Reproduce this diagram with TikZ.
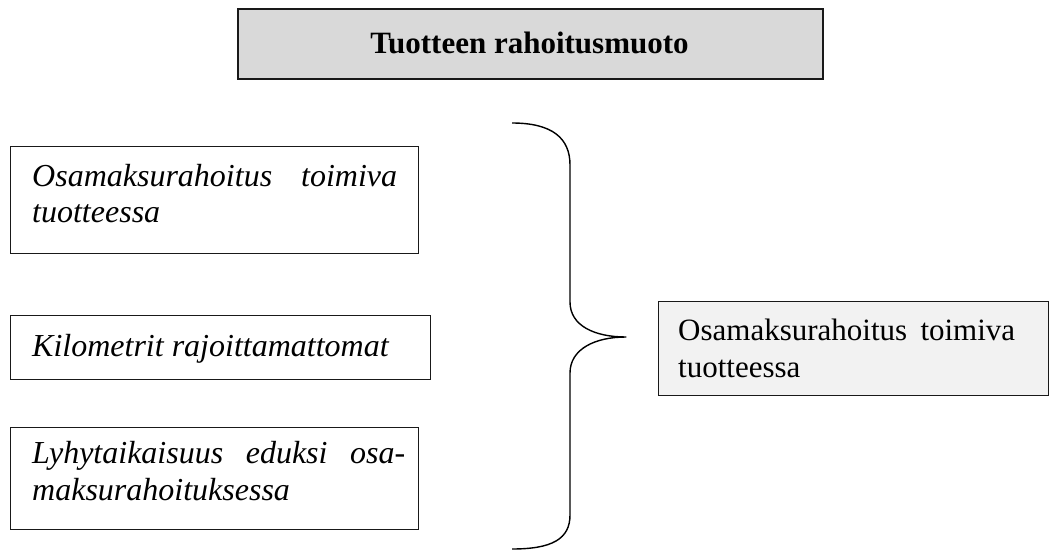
\documentclass[tikz,border=0pt]{standalone}
\usepackage{fontspec}
\setmainfont{Liberation Serif}
\begin{document}
\begin{tikzpicture}[x=1pt,y=-1pt,
  frame/.style={draw=black!90,line width=1.4pt,inner sep=0pt,anchor=north west},
  txt/.style={anchor=base west,inner sep=0pt,font=\fontsize{31}{36}\selectfont},
  ital/.style={txt,font=\fontsize{32}{37}\selectfont\itshape}]
\useasboundingbox (0,0) rectangle (1052,552);

% heading
\node[frame,line width=1.8pt,fill=black!15,minimum width=585pt,minimum height=70pt] (head) at (237,8) {};
\node[txt,anchor=base,font=\fontsize{31}{36}\selectfont\bfseries] (headtxt) at (529.5,53) {Tuotteen rahoitusmuoto};

% three criteria on the left
\node[frame,minimum width=408pt,minimum height=107pt] (c1) at (10,146) {};
\node[ital] (c1a) at (32,186) {\hbox to 365pt{Osamaksurahoitus\hfill toimiva}};
\node[ital] (c1b) at (32,222) {tuotteessa};

\node[frame,minimum width=420pt,minimum height=64pt] (c2) at (10,315) {};
\node[ital] (c2a) at (32,356) {Kilometrit rajoittamattomat};

\node[frame,minimum width=408pt,minimum height=102pt] (c3) at (10,427) {};
\node[ital] (c3a) at (32,463) {\hbox to 373pt{Lyhytaikaisuus\hfill eduksi\hfill osa-}};
\node[ital] (c3b) at (32,500) {maksurahoituksessa};

% result box on the right
\node[frame,fill=black!5,minimum width=390pt,minimum height=94pt] (res) at (658,301) {};
\node[txt] (resa) at (678,340) {\hbox to 337pt{Osamaksurahoitus\hfill toimiva}};
\node[txt] (resb) at (678,377) {tuotteessa};

% curly brace gathering the criteria
\coordinate (tip) at (626,337);
\draw[line width=1.4pt,line join=round]
  (512,123) .. controls (552,123) and (570,138) .. (570,165)
  -- (570,302) .. controls (570,326) and (595,337) .. (tip)
  .. controls (595,337) and (570,349) .. (570,373)
  -- (570,515) .. controls (570,539) and (552,549) .. (512,549);
\end{tikzpicture}
\end{document}
